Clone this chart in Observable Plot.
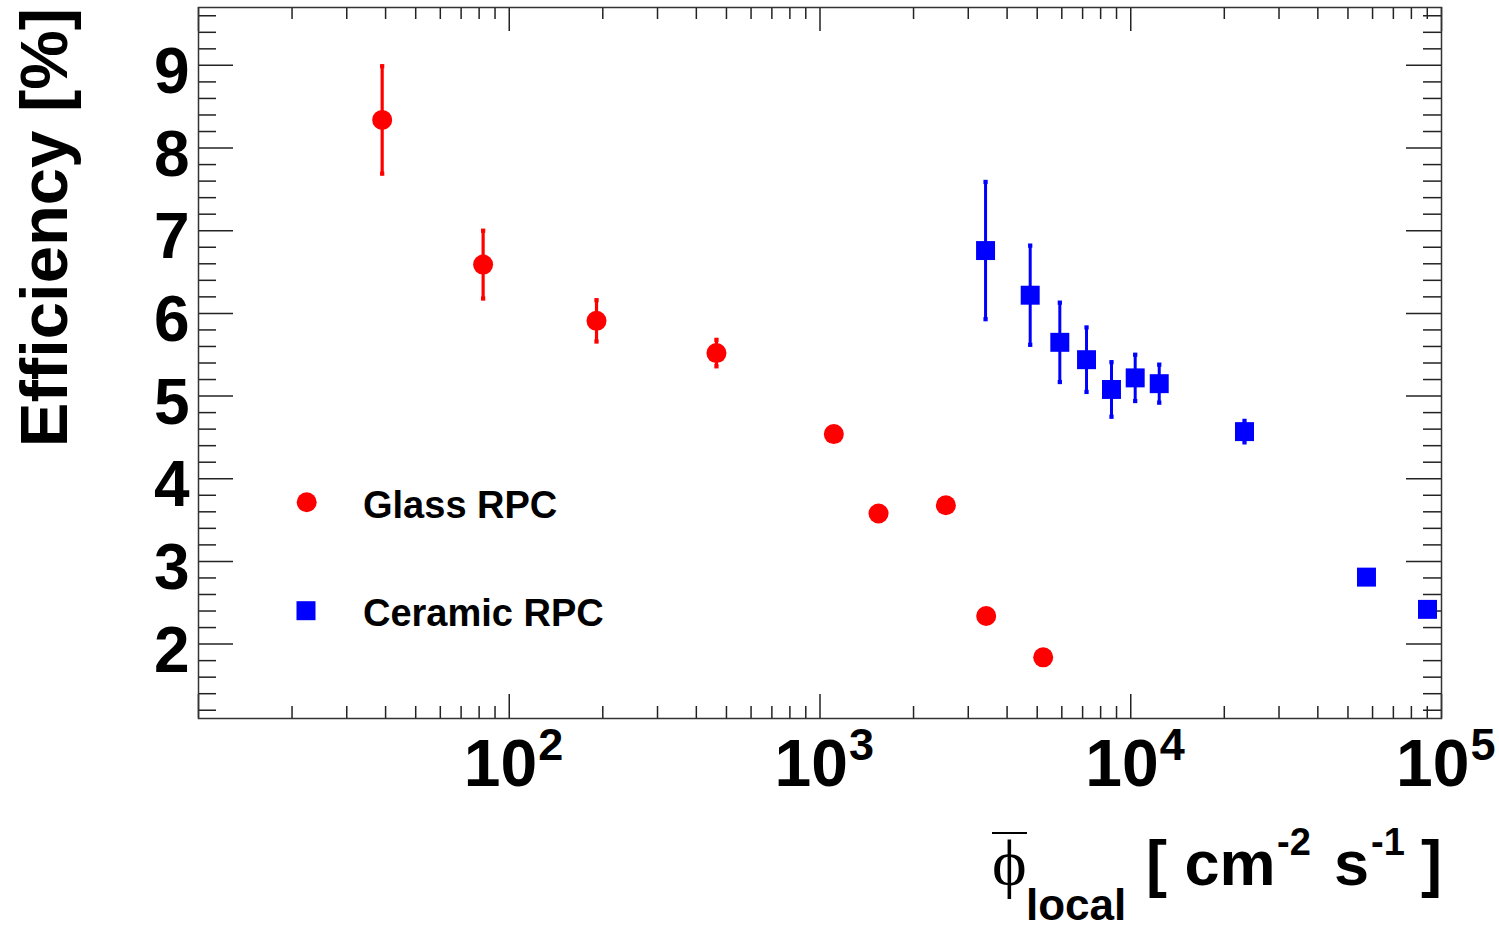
<!DOCTYPE html>
<html><head><meta charset="utf-8">
<script src="https://cdn.jsdelivr.net/npm/d3@7"></script>
<script src="https://cdn.jsdelivr.net/npm/@observablehq/plot@0.6"></script>
<style>
body{margin:0;background:#fff;}
#chart{position:relative;width:1499px;height:927px;}
</style>
</head><body><div id="chart"></div>
<script>
// ---- data ----
const glassFlux = [39.0, 82.4, 190.9, 464.3, 1108, 1543, 2541, 3426, 5227];
const glassEff  = [8.34, 6.59, 5.91, 5.52, 4.54, 3.58, 3.68, 2.34, 1.84];
const glassErr  = [0.65, 0.41, 0.25, 0.16, 0, 0, 0, 0, 0];

const ceramicFlux = [3410, 4747, 5912, 7206, 8670, 10335, 12350, 23230, 57360, 90140];
const ceramicEff  = [6.76, 6.22, 5.65, 5.44, 5.08, 5.22, 5.15, 4.57, 2.81, 2.42];
const ceramicErr  = [0.83, 0.60, 0.48, 0.39, 0.33, 0.28, 0.23, 0.13, 0, 0];

const xLabelValues = [100, 1000, 10000, 100000];
const xLabelBase = "10";
const xLabelExponents = ["2", "3", "4", "5"];
const yLabelValues = [2, 3, 4, 5, 6, 7, 8, 9];
const legendLabels = ["Glass RPC", "Ceramic RPC"];
const yTitle = "Efficiency [%]";

// ---- derived tables ----
const glass = glassFlux.map((x, i) => ({x, y: glassEff[i], e: glassErr[i]}));
const ceramic = ceramicFlux.map((x, i) => ({x, y: ceramicEff[i], e: ceramicErr[i]}));
const glassE = glass.filter(d => d.e > 0);
const ceramicE = ceramic.filter(d => d.e > 0);
const capsOf = arr => arr.flatMap(d => [{x: d.x, y: d.y - d.e}, {x: d.x, y: d.y + d.e}]);

const xMajor = [10, 100, 1000, 10000, 100000];
const xMinor = d3.range(1, 5).flatMap(p => d3.range(2, 10).map(m => m * 10 ** p));
const yMinor = d3.range(6, 49).filter(i => i % 5 !== 0).map(i => i / 5);

const W = 1499, H = 927, ML = 198, MR = 58, MT = 7, MB = 209;
const FW = W - ML - MR, FH = H - MT - MB;
const RED = "#ff0000", BLUE = "#0000ff", TICK = "#222";
const FONT = "Liberation Sans, Arial, Helvetica, sans-serif";

const plot = Plot.plot({
  width: W, height: H,
  marginLeft: ML, marginRight: MR, marginTop: MT, marginBottom: MB,
  style: {background: "#fff", overflow: "visible", fontFamily: FONT},
  x: {type: "log", domain: [10, 100000], axis: null},
  y: {domain: [1.1, 9.7], axis: null},
  marks: [
    // ticks: bottom & top
    Plot.tickX(xMinor, {x: d => d, insetTop: FH - 12, stroke: TICK, strokeWidth: 1.5}),
    Plot.tickX(xMajor, {x: d => d, insetTop: FH - 24, stroke: TICK, strokeWidth: 1.5}),
    Plot.tickX(xMinor, {x: d => d, insetBottom: FH - 12, stroke: TICK, strokeWidth: 1.5}),
    Plot.tickX(xMajor, {x: d => d, insetBottom: FH - 24, stroke: TICK, strokeWidth: 1.5}),
    // ticks: left & right
    Plot.tickY(yMinor, {y: d => d, insetRight: FW - 18, stroke: TICK, strokeWidth: 1.5}),
    Plot.tickY(yLabelValues, {y: d => d, insetRight: FW - 35, stroke: TICK, strokeWidth: 1.5}),
    Plot.tickY(yMinor, {y: d => d, insetLeft: FW - 18, stroke: TICK, strokeWidth: 1.5}),
    Plot.tickY(yLabelValues, {y: d => d, insetLeft: FW - 35, stroke: TICK, strokeWidth: 1.5}),
    Plot.frame({stroke: "#333", strokeWidth: 1.5}),
    // tick labels
    Plot.text(yLabelValues, {y: d => d, text: d => String(d), frameAnchor: "left", textAnchor: "end",
      dx: -9, dy: 7, fontSize: 64, fontWeight: "bold", fill: "#000"}),
    Plot.text(xLabelValues, {x: d => d, text: () => xLabelBase, frameAnchor: "bottom", textAnchor: "end",
      dx: 28, dy: 67.6, fontSize: 66, fontWeight: "bold", fill: "#000"}),
    Plot.text(xLabelValues, {x: d => d, text: (d, i) => xLabelExponents[i], frameAnchor: "bottom", textAnchor: "start",
      dx: 29, dy: 41.6, fontSize: 45, fontWeight: "bold", fill: "#000"}),
    // error bars
    Plot.ruleX(glassE, {x: "x", y1: d => d.y - d.e, y2: d => d.y + d.e, stroke: RED, strokeWidth: 3.2}),
    Plot.dot(capsOf(glassE), {x: "x", y: "y", symbol: "square", r: 2.4, fill: RED}),
    Plot.ruleX(ceramicE, {x: "x", y1: d => d.y - d.e, y2: d => d.y + d.e, stroke: BLUE, strokeWidth: 3}),
    Plot.dot(capsOf(ceramicE), {x: "x", y: "y", symbol: "square", r: 2.4, fill: BLUE}),
    // points
    Plot.dot(glass, {x: "x", y: "y", r: 10, fill: RED}),
    Plot.dot(ceramic, {x: "x", y: "y", symbol: "square", r: 10.7, fill: BLUE})
  ]
});

document.getElementById("chart").appendChild(plot);
const svg = d3.select(plot);

// legend
const lg = svg.append("g").attr("font-family", FONT).attr("font-weight", "bold").attr("font-size", 38)
  .attr("text-anchor", "start").attr("fill", "#000");
lg.append("circle").attr("cx", 306.7).attr("cy", 502.3).attr("r", 10).attr("fill", RED);
lg.append("rect").attr("x", 296.5).attr("y", 601.2).attr("width", 19).attr("height", 19).attr("fill", BLUE);
lg.append("text").attr("x", 363).attr("y", 518).text(legendLabels[0]);
lg.append("text").attr("x", 363).attr("y", 626).text(legendLabels[1]);

// y title
svg.append("text")
  .attr("transform", "translate(67,227.5) rotate(-90)")
  .attr("text-anchor", "middle")
  .attr("font-family", FONT).attr("font-weight", "bold").attr("font-size", 67)
  .text(yTitle);

// x title: overline phi, subscript "local", [ cm^-2 s^-1 ]
const xt = svg.append("text").attr("x", 992).attr("y", 885).attr("text-anchor", "start")
  .attr("font-family", FONT).attr("font-weight", "bold").attr("font-size", 63);
xt.append("tspan").attr("font-family", "Liberation Serif, DejaVu Serif, serif").attr("font-weight", "normal")
  .attr("font-size", 66).text("\u03D5");
xt.append("tspan").attr("x", 1026).attr("dy", 35).attr("font-size", 44).text("local");
xt.append("tspan").attr("x", 1146).attr("dy", -35).text("[ cm");
xt.append("tspan").attr("x", 1277).attr("dy", -30).attr("font-size", 38).text("-2");
xt.append("tspan").attr("x", 1334).attr("dy", 30).text("s");
xt.append("tspan").attr("x", 1371).attr("dy", -30).attr("font-size", 38).text("-1");
xt.append("tspan").attr("x", 1421).attr("dy", 30).text("]");
svg.append("line").attr("x1", 992).attr("x2", 1027).attr("y1", 833).attr("y2", 833)
  .attr("stroke", "#000").attr("stroke-width", 2);
</script>
</body></html>
